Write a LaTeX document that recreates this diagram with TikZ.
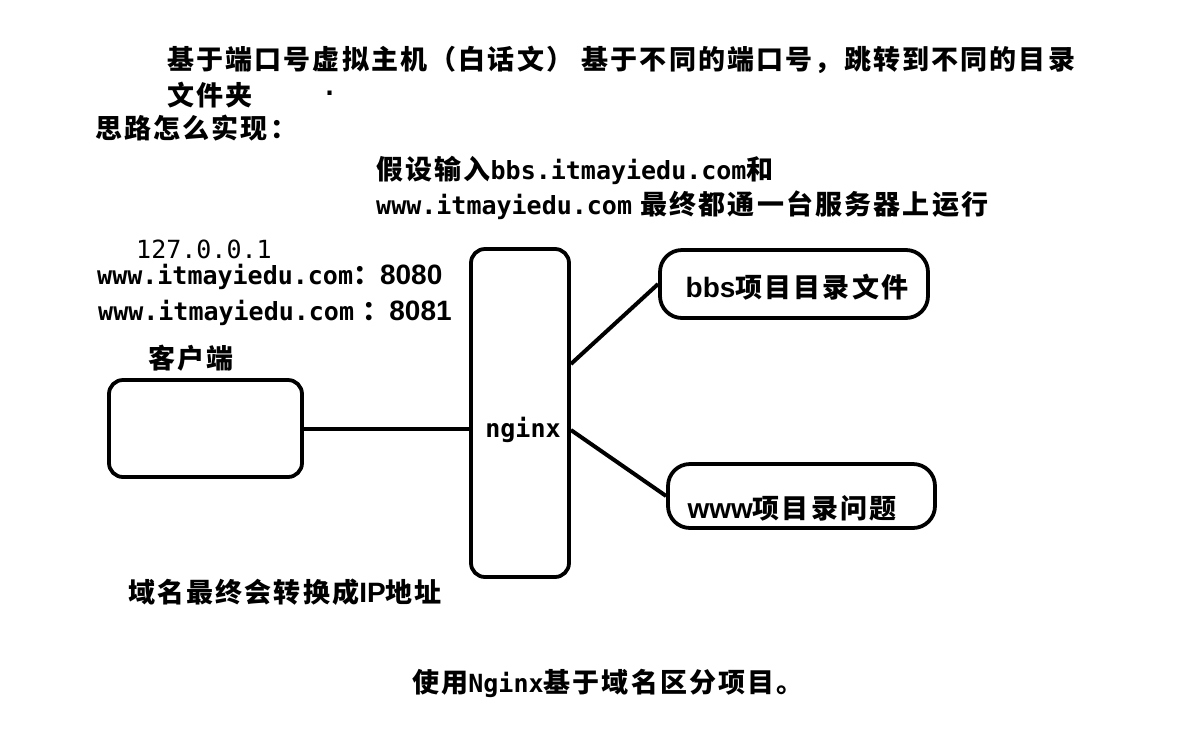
\documentclass[tikz,border=0pt]{standalone}
\usepackage{fontspec}
\newfontfamily\cjk{Noto Sans CJK SC}[LetterSpace=8]
\newfontfamily\mono{DejaVu Sans Mono}
\newfontfamily\arialf{Liberation Sans}
\newcommand{\cjkf}{\cjk\bfseries\fontsize{27}{30}\selectfont}
\newcommand{\M}[1]{{\mono\bfseries\fontsize{25}{30}\selectfont #1}}
\newcommand{\Mr}[1]{{\mono\mdseries\fontsize{25}{30}\selectfont #1}}
\newcommand{\D}[1]{{\arialf\bfseries\fontsize{28}{30}\selectfont #1}}
\begin{document}
\begin{tikzpicture}[x=1pt,y=-1pt,
  box/.style={draw, line width=3.8pt, rounded corners=14pt, inner sep=0pt},
  pill/.style={draw, line width=3.8pt, rounded corners=22pt, inner sep=0pt},
  txt/.style={anchor=west, inner sep=0pt, font=\cjkf},
  conn/.style={line width=4pt}]
\useasboundingbox (0,0) rectangle (1194,748);
% header texts
\node[txt] (t1) at (167,60) {基于端口号虚拟主机（白话文） 基于不同的端口号，跳转到不同的目录};
\node[txt] (t2) at (167,95) {文件夹};
\node[txt] (dot) at (322,93) {\M{.}};
\node[txt] (t3) at (95,128) {思路怎么实现：};
\node[txt] (t4) at (376,170) {假设输入\M{bbs.itmayiedu.com}和};
\node[txt] (t5) at (376,205) {\M{www.itmayiedu.com} 最终都通一台服务器上运行};
% left texts
\node[txt] (ip) at (136,249) {\Mr{127.0.0.1}};
\node[txt] (u1) at (97,277) {\M{www.itmayiedu.com}：\D{8080}};
\node[txt] (u2) at (98,313) {\M{www.itmayiedu.com}~：\D{8081}};
\node[txt] (kh) at (148,358) {客户端};
% boxes
\node[box, minimum width=193pt, minimum height=97pt] (client) at (205.5,428.5) {};
\node[box, minimum width=98pt, minimum height=328pt] (nginx) at (520,413) {};
\node[inner sep=0pt] (ngt) at (523,430) {\M{nginx}};
\node[pill, minimum width=268pt, minimum height=68pt] (bbs) at (794,284) {};
\node[inner sep=0pt, font=\cjkf] (bbst) at (797,287) {\D{bbs}项目目录文件};
\node[pill, minimum width=267pt, minimum height=64pt] (www) at (801.5,496) {};
\node[inner sep=0pt, font=\cjkf] (wwwt) at (792,508) {\D{www}项目录问题};
% connectors
\draw[conn] (client.east) -- (client.east -| nginx.west);
\draw[conn] ([yshift=49pt]nginx.east) -- (bbs.west);
\draw[conn] ([yshift=-17pt]nginx.east) -- (www.west);
% bottom texts
\node[txt] (b1) at (128,592) {域名最终会转换成\D{IP}地址};
\node[txt] (b2) at (412,683) {使用\M{Nginx}基于域名区分项目。};
\end{tikzpicture}
\end{document}
